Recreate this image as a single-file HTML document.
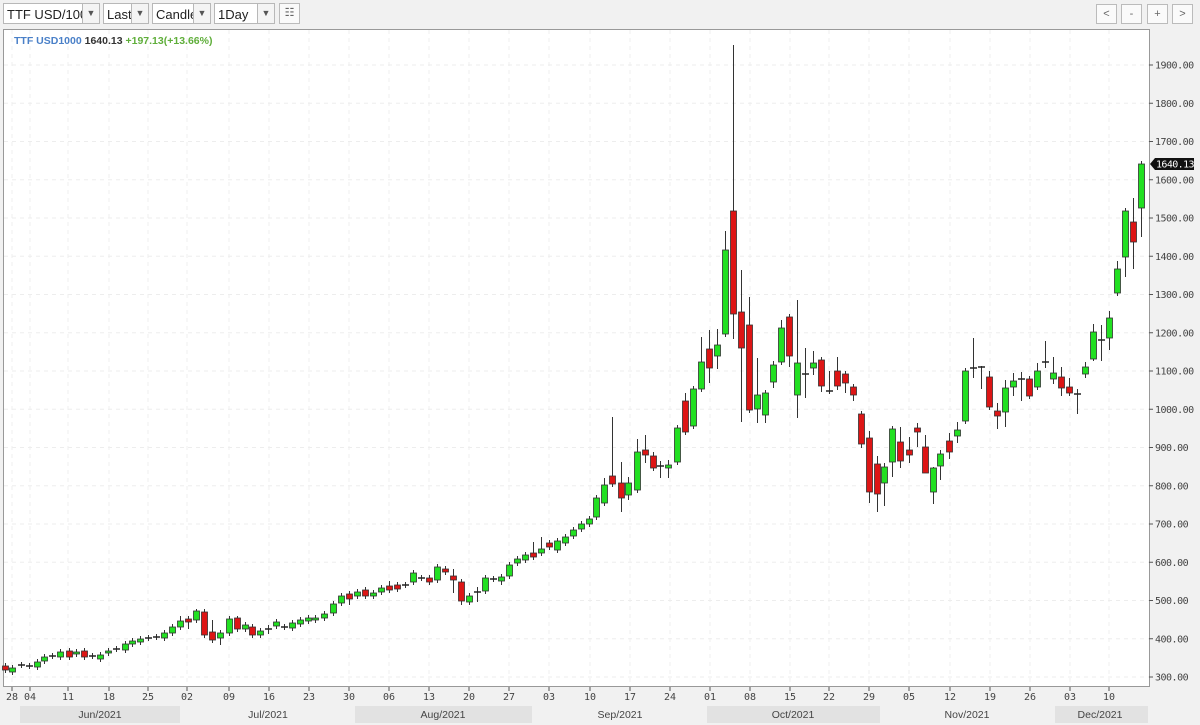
<!DOCTYPE html>
<html><head><meta charset="utf-8">
<style>
html,body{margin:0;padding:0;background:#f1f1f1;}
body{width:1200px;height:725px;overflow:hidden;position:relative;font-family:"Liberation Sans",sans-serif;}
.dd{position:absolute;top:3px;height:21px;border:1px solid #b8b8b8;background:#fff;font-size:13px;line-height:21px;color:#222;box-sizing:border-box;padding-left:3px;overflow:hidden;white-space:nowrap}
.dd .ar{position:absolute;right:0;top:0;width:16px;height:19px;border-left:1px solid #b8b8b8;background:#f4f4f4;font-size:9px;text-align:center;line-height:19px;color:#555}
.bt{position:absolute;top:4px;width:21px;height:20px;border:1px solid #bbb;background:#fafafa;box-sizing:border-box;font-size:11px;text-align:center;line-height:18px;color:#666}
</style></head><body>
<div class="dd" style="left:3px;width:97px">TTF USD/100<div class="ar">▼</div></div>
<div class="dd" style="left:103px;width:46px">Last<div class="ar">▼</div></div>
<div class="dd" style="left:152px;width:59px">Candle<div class="ar">▼</div></div>
<div class="dd" style="left:214px;width:61px">1Day<div class="ar">▼</div></div>
<div class="bt" style="left:279px;top:3px;height:21px">☷</div>
<div class="bt" style="left:1096px">&lt;</div>
<div class="bt" style="left:1121px">-</div>
<div class="bt" style="left:1147px">+</div>
<div class="bt" style="left:1172px">&gt;</div>
<svg id="s" width="1200" height="725" style="position:absolute;left:0;top:0" xmlns="http://www.w3.org/2000/svg"></svg>
<script>
var s=document.getElementById('s');var h='';
h+='<rect x="3.5" y="29.5" width="1146" height="657" fill="#fff" stroke="#999"/>';
[[20,180],[355,532],[707,880],[1055,1148]].forEach(function(b){h+='<rect x="'+b[0]+'" y="706" width="'+(b[1]-b[0])+'" height="17" fill="#e2e2e2"/>';});
var months=[[100,'Jun/2021'],[268,'Jul/2021'],[443,'Aug/2021'],[620,'Sep/2021'],[793,'Oct/2021'],[967,'Nov/2021'],[1100,'Dec/2021']];
months.forEach(function(m){h+='<text x="'+m[0]+'" y="718" font-size="10.5" fill="#444" text-anchor="middle">'+m[1]+'</text>';});
for(var v=300;v<=1900;v+=100){var y=677-(v-300)*0.3825;
h+='<line x1="4" x2="1149" y1="'+y+'" y2="'+y+'" stroke="#ededed" stroke-dasharray="4,4"/>';
h+='<line x1="1149" x2="1153" y1="'+y+'" y2="'+y+'" stroke="#555"/>';
h+='<text x="1155" y="'+(y+3.5)+'" font-size="10" font-family="DejaVu Sans Mono,Liberation Mono,monospace" fill="#444" letter-spacing="-0.5">'+v+'.00</text>';}
var xs=[[12,'28'],[30,'04'],[68,'11'],[109,'18'],[148,'25'],[187,'02'],[229,'09'],[269,'16'],[309,'23'],[349,'30'],[389,'06'],[429,'13'],[469,'20'],[509,'27'],[549,'03'],[590,'10'],[630,'17'],[670,'24'],[710,'01'],[750,'08'],[790,'15'],[829,'22'],[869,'29'],[909,'05'],[950,'12'],[990,'19'],[1030,'26'],[1070,'03'],[1109,'10']];
xs.forEach(function(t){h+='<line x1="'+t[0]+'" x2="'+t[0]+'" y1="30" y2="686" stroke="#efefef" stroke-dasharray="4,4"/>';
h+='<line x1="'+t[0]+'" x2="'+t[0]+'" y1="687" y2="691" stroke="#555"/>';
h+='<text x="'+t[0]+'" y="700" font-size="10" font-family="DejaVu Sans Mono,Liberation Mono,monospace" fill="#444" text-anchor="middle">'+t[1]+'</text>';});
var d=[
[5,666,670,,,'r'],[12,668,672,,,'g'],[21,665,665,,,'d'],[29,666,666,,,'d'],[37,662,667,,,'g'],[44,657,661,,,'g'],[52,656,656,,,'d'],[60,652,657,,,'g'],[69,651,657,,,'r'],[76,652,654,,,'g'],[84,651,657,,,'r'],[92,656,656,,,'d'],[100,655,659,,,'g'],[108,651,653,,,'g'],[116,649,649,,,'d'],[125,644,650,,,'g'],[132,641,644,,,'g'],[140,639,642,,,'g'],[148,638,638,,,'d'],[156,637,637,,,'d'],[164,633,638,,,'g'],[172,627,633,,,'g'],[180,621,627,616,,'g'],[188,619,622,,629,'r'],[196,611,620,609,,'g'],[204,612,635,609,,'r'],[212,632,640,620,,'r'],[220,633,638,,645,'g'],[229,619,633,,,'g'],[237,618,629,616,,'r'],[245,625,629,,,'g'],[252,627,635,,,'r'],[260,631,635,,,'g'],[268,629,629,625,634,'d'],[276,622,626,,,'g'],[284,627,627,,,'d'],[292,623,628,,,'g'],[300,620,624,,,'g'],[308,618,621,,,'g'],
[315,618,620,,,'g'],[324,614,618,,,'g'],[333,604,613,,,'g'],[341,596,603,,,'g'],[349,594,599,,605,'r'],[357,592,596,,,'g'],[365,590,596,,,'r'],[373,593,596,,,'g'],[381,588,592,,,'g'],[389,586,590,581,,'r'],[397,585,589,,,'r'],[405,585,585,,,'d'],[413,573,582,,,'g'],[421,578,578,,,'d'],[429,578,582,,,'r'],[437,567,580,564,,'g'],[445,569,572,,,'r'],[453,576,580,569,593,'r'],[461,582,601,,605,'r'],[469,596,602,,,'g'],[477,592,592,587,602,'d'],[485,578,591,,,'g'],[493,579,579,,,'d'],[501,577,581,,585,'g'],[509,565,576,,,'g'],[517,559,563,,,'g'],[525,555,560,,563,'g'],[533,553,557,542,,'r'],[541,549,553,537,,'g'],[549,543,547,,,'r'],[557,541,550,,,'g'],[565,537,543,,,'g'],[573,530,536,,,'g'],[581,524,529,,,'g'],[589,519,524,,,'g'],
[596,498,517,,,'g'],[604,485,503,478,,'g'],[612,476,484,417,,'r'],[621,483,498,462,512,'r'],[628,483,495,477,500,'g'],[637,452,490,439,,'g'],[645,450,455,435,463,'r'],[653,456,468,452,,'r'],[660,466,466,461,478,'d'],[668,465,468,460,478,'g'],[677,428,462,,465,'g'],[685,401,432,393,,'r'],[693,389,426,386,,'g'],[701,362,389,337,,'g'],[709,349,368,330,383,'r'],[717,345,356,329,369,'g'],[725,250,334,231,,'g'],[733,211,314,45,339,'r'],[741,312,348,270,422,'r'],[749,325,410,297,413,'r'],[757,395,409,358,423,'g'],[765,393,415,390,423,'g'],[773,365,382,361,388,'g'],[781,328,362,320,,'g'],[789,317,356,314,367,'r'],[797,363,395,300,418,'g'],[805,374,374,348,398,'d'],[813,363,368,351,375,'g'],[821,360,386,357,392,'r'],[829,391,391,371,394,'d'],[837,371,386,357,390,'r'],[845,374,383,,393,'r'],[853,387,395,,401,'r'],[861,414,444,,448,'r'],[869,438,492,431,503,'r'],[877,464,494,456,512,'r'],
[884,467,483,463,506,'g'],[892,429,462,,477,'g'],[900,442,461,427,468,'r'],[909,450,455,437,463,'r'],[917,428,432,423,447,'r'],[925,447,473,435,473,'r'],[933,468,492,467,504,'g'],[940,454,466,450,480,'g'],[949,441,452,433,459,'r'],[957,430,436,422,443,'g'],[965,371,421,368,424,'g'],[973,368,368,338,378,'d'],[981,367,367,366,389,'d'],[989,377,407,371,410,'r'],[997,411,416,403,429,'r'],[1005,388,412,380,427,'g'],[1013,381,387,373,396,'g'],[1021,379,379,372,401,'d'],[1029,379,396,,399,'r'],[1037,371,387,363,,'g'],[1045,362,362,341,368,'d'],[1053,373,379,357,384,'g'],[1061,377,388,367,396,'r'],[1069,387,393,378,396,'r'],[1077,394,394,389,414,'d'],[1085,367,374,362,378,'g'],[1093,332,359,324,361,'g'],[1101,340,340,325,361,'d'],[1109,318,338,311,350,'g'],[1117,269,293,261,,'g'],[1125,211,257,,277,'g'],[1133,222,242,198,269,'r'],[1141,164,208,,237,'g']];
d.forEach(function(c){var x=c[0],t=c[1],b=c[2],hi=c[3]==null?t-3:c[3],lo=c[4]==null?b+3:c[4],ty=c[5];
h+='<line x1="'+(x+.5)+'" x2="'+(x+.5)+'" y1="'+hi+'" y2="'+lo+'" stroke="#333" stroke-width="1"/>';
if(ty=='d'){h+='<line x1="'+(x-3)+'" x2="'+(x+4)+'" y1="'+t+'" y2="'+t+'" stroke="#222" stroke-width="1.5"/>';}
else{var bh=Math.max(b-t,2);h+='<rect x="'+(x-2.5)+'" y="'+t+'" width="6" height="'+bh+'" fill="'+(ty=='g'?'#22e022':'#dd1515')+'" stroke="#333" stroke-width="0.8"/>';}});
h+='<polygon points="1150,164 1155,158 1194,158 1194,170 1155,170" fill="#111"/>';
h+='<text x="1156" y="167.5" font-size="10" font-family="DejaVu Sans Mono,Liberation Mono,monospace" fill="#fff" letter-spacing="-0.6">1640.13</text>';
h+='<text x="14" y="44" font-size="10.5" font-weight="bold"><tspan fill="#4a80c8">TTF USD1000</tspan><tspan fill="#333"> 1640.13</tspan><tspan fill="#5fae3a"> +197.13(+13.66%)</tspan></text>';
s.innerHTML=h;
</script>
</body></html>
